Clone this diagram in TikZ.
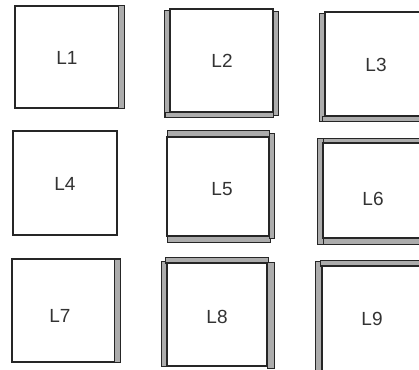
\documentclass[tikz,border=0pt]{standalone}
\usepackage{fontspec}
\setmainfont{Liberation Sans}
\begin{document}
\begin{tikzpicture}[x=1pt,y=-1pt,
  box/.style={draw=black!85, line width=1.2pt, fill=white},
  band/.style={draw=black!85, line width=1pt, fill=gray!65},
  lbl/.style={text=black!80, font=\fontsize{19}{22}\selectfont, inner sep=0pt}]
\useasboundingbox (0,0) rectangle (419,369);
\clip (0,0) rectangle (419,369);
\fill[white] (0,0) rectangle (419,369);
% L1
\draw[box] (15,6) rectangle (124,108);
\draw[band] (118,6) rectangle (124,108);
\node[lbl] (l1) at (67,58) {L1};
% L2
\draw[band] (164,11) rectangle (170,117);
\draw[band] (165,112) rectangle (273,117);
\draw[band] (273,12) rectangle (278,115);
\draw[box] (170,9) rectangle (273,112);
\node[lbl] (l2) at (222,61) {L2};
% L3
\draw[band] (319,14) rectangle (325,121);
\draw[band] (322,116) rectangle (425,121);
\draw[box] (325,12) rectangle (425,116);
\node[lbl] (l3) at (376,65) {L3};
% L4
\draw[box] (13,131) rectangle (117,235);
\node[lbl] (l4) at (65,184) {L4};
% L5
\draw[band] (167,130) rectangle (269,137);
\draw[band] (167,236) rectangle (270,242);
\draw[band] (269,133) rectangle (274,238);
\draw[box] (167,137) rectangle (269,236);
\node[lbl] (l5) at (222,189) {L5};
% L6
\draw[band] (317,138) rectangle (323,244);
\draw[band] (323,138) rectangle (425,143);
\draw[band] (323,238) rectangle (425,244);
\draw[box] (323,143) rectangle (425,238);
\node[lbl] (l6) at (373,199) {L6};
% L7
\draw[box] (12,259) rectangle (120,362);
\draw[band] (114,259) rectangle (120,362);
\node[lbl] (l7) at (60,316) {L7};
% L8
\draw[band] (161,261) rectangle (167,366);
\draw[band] (165,257) rectangle (268,263);
\draw[band] (267,262) rectangle (274,368);
\draw[box] (167,263) rectangle (267,366);
\node[lbl] (l8) at (217,317) {L8};
% L9
\draw[band] (315,261) rectangle (322,375);
\draw[band] (320,260) rectangle (425,266);
\draw[box] (322,266) rectangle (425,375);
\node[lbl] (l9) at (372,319) {L9};
\end{tikzpicture}
\end{document}
